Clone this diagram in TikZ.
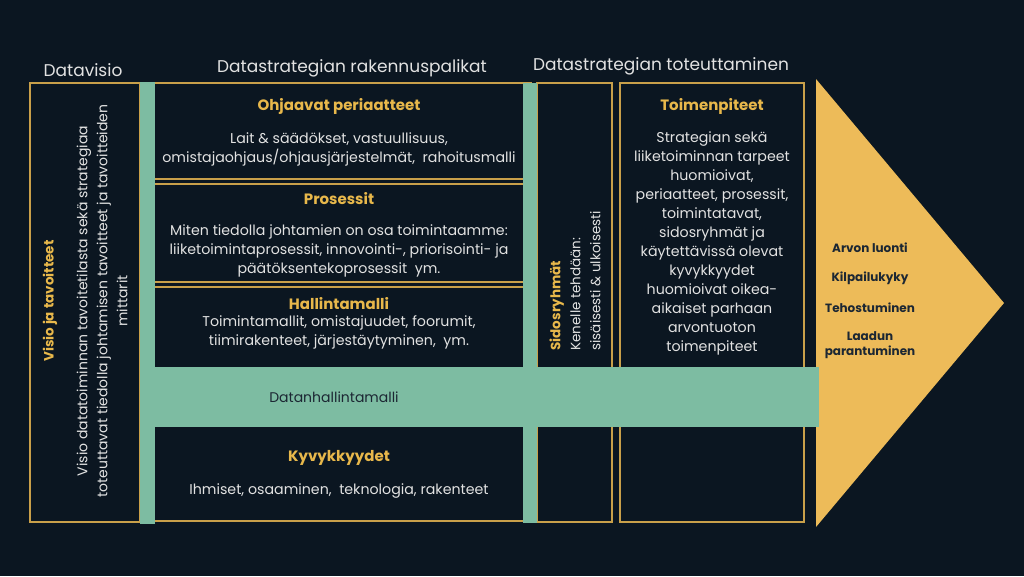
\documentclass[tikz,border=0pt]{standalone}
\usepackage{fontspec}
\setmainfont{Poppins}
\definecolor{BgBase}{HTML}{0B1621}
\definecolor{BarGreen}{HTML}{7DBCA2}
\definecolor{LineGold}{HTML}{C9A04A}
\definecolor{TextGold}{HTML}{E8B84B}
\definecolor{ArrowGold}{HTML}{EDBB59}
\definecolor{TextLight}{HTML}{E2E2E2}
\definecolor{TextDark}{HTML}{1C2733}

\begin{document}
\begin{tikzpicture}[x=1pt, y=-1pt,
  title/.style={anchor=center, text=TextLight, font=\fontsize{17}{22}\selectfont},
  heading/.style={anchor=center, text=TextGold, font=\fontsize{15}{18}\selectfont\bfseries},
  body/.style={anchor=center, text=TextLight, align=center, font=\fontsize{14.2}{19}\selectfont},
  result/.style={anchor=center, text=TextDark, align=center, font=\fontsize{12}{15}\selectfont\bfseries}]

  % Hintergrund (1024 x 576)
  \fill[BgBase] (0,0) rectangle (1024,576);

  % Spaltentitel
  \node[title] (tvisio) at (83,70) {Datavisio};
  \node[title] (tpalikat) at (352,68) {Datastrategian rakennuspalikat};
  \node[title] (ttoteutus) at (661,66) {Datastrategian toteuttaminen};

  % Rahmen und Trennlinien
  \draw[LineGold, line width=1.2pt] (30,83) rectangle (140,522);
  \draw[LineGold, line width=1.2pt] (152,83) -- (532,83);
  \draw[LineGold, line width=1.2pt] (155,521) -- (523,521);
  % Doppellinie zwischen den Bausteinen
  \def\doppellinie#1{
    \draw[LineGold, line width=1.2pt] (155,#1) -- (523,#1);
    \draw[LineGold, line width=1.2pt] (155,#1+5) -- (523,#1+5);
  }
  \doppellinie{179}
  \doppellinie{282}
  \draw[LineGold, line width=1.2pt] (537,83) rectangle (612,522);
  \draw[LineGold, line width=1.2pt] (620,83) rectangle (804,522);

  % Pfeil (Ergebnis)
  \fill[ArrowGold] (816,79) -- (1004,303) -- (816,527) -- cycle;

  % Gruene Balken
  \fill[BarGreen] (140,82) rectangle (155,524);
  \fill[BarGreen] (523,83) rectangle (537,523);
  \fill[BarGreen] (140,367) rectangle (819,427);

  % Datavisio
  \node[heading, rotate=90, font=\fontsize{13.5}{18}\selectfont\bfseries] (visio) at (50,301) {Visio ja tavoitteet};
  \node[body, rotate=90, font=\fontsize{14}{20}\selectfont] (visioteksti) at (102,301) {Visio datatoiminnan tavoitetilasta sekä strategiaa\\toteuttavat tiedolla johtamisen tavoitteet ja tavoitteiden\\mittarit};

  % Rakennuspalikat
  \node[heading] (ohjaavat) at (339,106) {Ohjaavat periaatteet};
  \node[body] (ohjaavatteksti) at (339,149) {Lait \& säädökset, vastuullisuus,\\omistajaohjaus/ohjausjärjestelmät,\ \ rahoitusmalli};
  \node[heading] (prosessit) at (339,199) {Prosessit};
  \node[body] (prosessitteksti) at (339,251) {Miten tiedolla johtamien on osa toimintaamme:\\liiketoimintaprosessit, innovointi-, priorisointi- ja\\päätöksentekoprosessit\ \ ym.};
  \node[heading] (hallinta) at (339,304) {Hallintamalli};
  \node[body] (hallintateksti) at (339,332.5) {Toimintamallit, omistajuudet, foorumit,\\tiimirakenteet, järjestäytyminen,\ \ ym.};
  \node[anchor=center, text=TextDark, font=\fontsize{14}{18}\selectfont] (datanhallinta) at (334,397) {Datanhallintamalli};
  \node[heading] (kyvyt) at (339,458) {Kyvykkyydet};
  \node[body] (kyvytteksti) at (339,491) {Ihmiset, osaaminen,\ \ teknologia, rakenteet};

  % Toteuttaminen
  \node[body, rotate=90, anchor=west, align=left, font=\fontsize{13.5}{20}\selectfont] (sidos) at (575,354)
    {{\color{TextGold}\bfseries Sidosryhmät}\\Kenelle tehdään:\\sisäisesti \& ulkoisesti};
  \node[heading] (toimet) at (712,106) {Toimenpiteet};
  \node[body] (toimetteksti) at (712,243.5) {Strategian sekä\\liiketoiminnan tarpeet\\huomioivat,\\periaatteet, prosessit,\\toimintatavat,\\sidosryhmät ja\\käytettävissä olevat\\kyvykkyydet\\huomioivat oikea-\\aikaiset parhaan\\arvontuoton\\toimenpiteet};

  % Ergebnisse im Pfeil
  \node[result] (arvo) at (870,248) {Arvon luonti};
  \node[result] (kilpailu) at (870,278) {Kilpailukyky};
  \node[result] (teho) at (870,308) {Tehostuminen};
  \node[result] (laatu) at (870,345.5) {Laadun\\parantuminen};

\end{tikzpicture}
\end{document}
